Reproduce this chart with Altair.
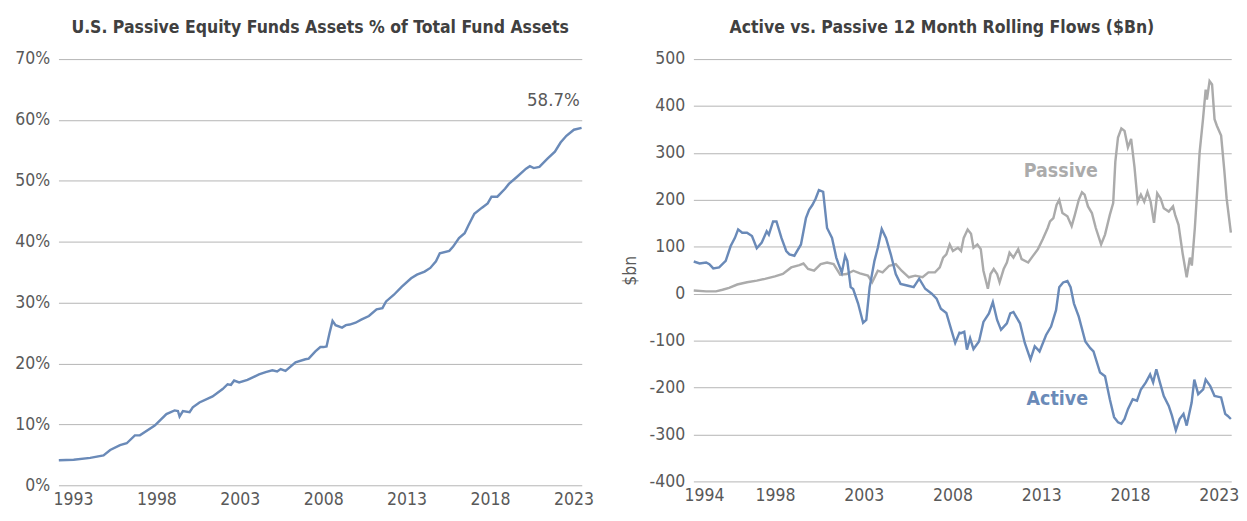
import altair as alt
import pandas as pd

# ---------------- data ----------------
# Left panel: passive equity fund assets as % of total fund assets
share_year = [1992.15, 1993.04, 1994.03, 1994.83, 1995.23, 1995.82, 1996.22, 1996.71, 1997.01, 1997.90,
              1998.60, 1999.09, 1999.29, 1999.39, 1999.59, 1999.99, 2000.18, 2000.58, 2001.37, 2001.97,
              2002.27, 2002.47, 2002.66, 2002.96, 2003.46, 2004.15, 2004.55, 2004.95, 2005.24, 2005.45,
              2005.74, 2006.34, 2006.93, 2007.13, 2007.53, 2007.83, 2008.02, 2008.20, 2008.38, 2008.56,
              2008.74, 2009.13, 2009.36, 2009.59, 2009.94, 2010.28, 2010.74, 2011.20, 2011.55, 2011.77,
              2012.24, 2012.70, 2013.27, 2013.62, 2014.08, 2014.42, 2014.76, 2014.99, 2015.56, 2015.79,
              2016.14, 2016.48, 2016.71, 2017.06, 2017.52, 2017.86, 2018.09, 2018.44, 2018.90, 2019.13,
              2019.59, 2020.16, 2020.39, 2020.62, 2020.96, 2021.43, 2021.89, 2022.23, 2022.58, 2023.03,
              2023.49]
share_pct = [4.1, 4.2, 4.5, 4.9, 5.8, 6.6, 6.9, 8.2, 8.2, 9.8,
             11.7, 12.3, 12.2, 11.3, 12.2, 12.0, 12.8, 13.6, 14.6, 15.8,
             16.6, 16.5, 17.2, 16.9, 17.3, 18.2, 18.6, 18.9, 18.7, 19.1,
             18.8, 20.2, 20.7, 20.8, 22.0, 22.7, 22.7, 22.8, 25.0, 27.0,
             26.3, 25.9, 26.3, 26.4, 26.7, 27.2, 27.8, 28.9, 29.1, 30.2,
             31.3, 32.6, 34.0, 34.6, 35.1, 35.7, 36.8, 38.1, 38.5, 39.2,
             40.6, 41.4, 42.7, 44.6, 45.6, 46.3, 47.4, 47.4, 48.7, 49.5,
             50.6, 52.0, 52.4, 52.1, 52.3, 53.6, 54.8, 56.3, 57.4, 58.4,
             58.7]
share_ticks = [1993, 1998, 2003, 2008, 2013, 2018, 2023]
share_pct_ticks = [0, 10, 20, 30, 40, 50, 60, 70]
share_note = "58.7%"

# Right panel: 12 month rolling flows, $bn
active_year = [1993.42, 1993.75, 1994.12, 1994.30, 1994.52, 1994.85, 1995.22, 1995.50, 1995.74, 1995.92,
               1996.15, 1996.42, 1996.70, 1996.97, 1997.25, 1997.53, 1997.65, 1997.89, 1998.08, 1998.36,
               1998.63, 1998.81, 1999.09, 1999.46, 1999.74, 1999.92, 2000.10, 2000.29, 2000.47, 2000.71,
               2000.93, 2001.21, 2001.45, 2001.58, 2001.76, 2001.95, 2002.07, 2002.26, 2002.40, 2002.68,
               2002.96, 2003.14, 2003.33, 2003.60, 2003.79, 2004.01, 2004.25, 2004.52, 2004.80, 2005.07,
               2005.44, 2005.81, 2006.12, 2006.46, 2006.83, 2007.10, 2007.34, 2007.65, 2007.93, 2008.15,
               2008.39, 2008.48, 2008.66, 2008.81, 2008.99, 2009.18, 2009.49, 2009.74, 2010.05, 2010.27,
               2010.51, 2010.73, 2011.06, 2011.25, 2011.43, 2011.58, 2011.80, 2012.07, 2012.39, 2012.63,
               2012.90, 2013.27, 2013.55, 2013.83, 2014.01, 2014.23, 2014.47, 2014.65, 2014.84, 2015.11,
               2015.48, 2015.76, 2015.94, 2016.31, 2016.59, 2016.86, 2017.10, 2017.32, 2017.51, 2017.69,
               2017.88, 2018.15, 2018.39, 2018.61, 2018.89, 2019.13, 2019.30, 2019.48, 2019.68, 2019.90,
               2020.18, 2020.36, 2020.58, 2020.79, 2021.01, 2021.19, 2021.47, 2021.62, 2021.84, 2022.12,
               2022.26, 2022.52, 2022.76, 2023.13, 2023.36, 2023.49, 2023.68]
active_bn = [68.6, 64.4, 66.5, 63, 54, 56, 70, 101.7, 119, 137,
             130, 130, 123, 97, 109, 133, 126, 154, 154, 119,
             91, 84, 81, 105, 161, 179, 189, 203, 221, 217,
             140, 119, 77, 63, 45, 81, 70, 14, 10, -21,
             -62, -56, 14, 70, 98, 138, 119, 84, 42, 21,
             17.5, 14, 32, 10.5, 0, -10.5, -32, -41, -77, -105,
             -83, -84, -81, -119, -95, -118, -102, -60, -42, -18,
             -56, -77, -63, -42, -39, -49, -63, -105, -140, -112,
             -123, -88, -70, -35, 14, 24, 27, 14, -21, -49,
             -102, -116, -123, -168, -176, -225, -263, -274, -277, -267,
             -246, -225, -228, -204, -189, -172, -189, -161, -189, -218,
             -239, -260, -291, -267, -256, -281, -232, -183, -214, -204,
             -183, -197, -218, -221, -256, -260, -267]
passive_year = [1993.42, 1994.12, 1994.67, 1995.04, 1995.41, 1995.87, 1996.42, 1996.97, 1997.43, 1997.99,
                1998.44, 1998.91, 1999.37, 1999.60, 1999.86, 2000.20, 2000.57, 2000.93, 2001.30, 2001.67,
                2002.04, 2002.41, 2002.78, 2003.23, 2003.47, 2003.79, 2004.06, 2004.43, 2004.80, 2005.13,
                2005.54, 2005.90, 2006.31, 2006.64, 2007.01, 2007.28, 2007.47, 2007.65, 2007.84, 2008.02,
                2008.30, 2008.48, 2008.63, 2008.85, 2009.04, 2009.18, 2009.40, 2009.59, 2009.74, 2009.99,
                2010.14, 2010.32, 2010.51, 2010.65, 2010.88, 2011.06, 2011.21, 2011.43, 2011.70, 2011.89,
                2012.26, 2012.53, 2012.81, 2013.08, 2013.36, 2013.49, 2013.68, 2013.86, 2014.01, 2014.19,
                2014.47, 2014.71, 2014.89, 2015.11, 2015.29, 2015.44, 2015.63, 2015.85, 2016.07, 2016.37,
                2016.59, 2016.86, 2017.05, 2017.17, 2017.32, 2017.51, 2017.69, 2017.88, 2018.06, 2018.25,
                2018.43, 2018.61, 2018.80, 2018.98, 2019.16, 2019.35, 2019.53, 2019.72, 2019.90, 2020.18,
                2020.42, 2020.54, 2020.73, 2020.97, 2021.19, 2021.37, 2021.48, 2021.65, 2021.92, 2022.11,
                2022.26, 2022.33, 2022.48, 2022.62, 2022.76, 2022.89, 2023.13, 2023.31, 2023.44, 2023.68]
passive_bn = [7, 5, 5, 8.4, 12.6, 19.6, 24.4, 28, 31.6, 37,
              42, 56, 61, 64.4, 52.6, 49, 63, 66.5, 63, 40.6,
              42, 49, 43.4, 38.5, 24.4, 49, 45.5, 59.6, 63, 49,
              35, 38.5, 35, 45.5, 45.5, 56, 77, 84, 105, 91,
              98, 91, 119, 137, 128, 98, 105, 95, 49, 10.5,
              42, 52.6, 42, 24.4, 52.6, 66.5, 87.6, 77, 95, 73.7,
              66.5, 80.6, 95, 116, 140, 154, 161, 189, 200, 172,
              165, 144, 168, 200, 216, 211, 186, 172, 140, 105,
              126, 168, 193, 281, 333, 352, 347, 312, 330, 270,
              196, 211, 196, 217, 196, 151, 214, 203, 182, 175,
              186, 168, 147, 84, 35, 77, 60, 140, 302, 372,
              435, 414, 453, 446, 372, 358, 337, 263, 203, 130]
flow_ticks = [1994, 1998, 2003, 2008, 2013, 2018, 2023]
flow_bn_ticks = [-400, -300, -200, -100, 0, 100, 200, 300, 400, 500]
series_names = ["Passive", "Active"]

# ---------------- styling ----------------
FONT = "Liberation Sans Narrow, DejaVu Sans Condensed, Roboto"
TXT = "#595959"
TITLE = "#404040"
GRID = "#B3B3B3"
BLUE = "#6A8AB8"
GRAY = "#ABABAB"

# ---------------- left panel ----------------
share_df = pd.DataFrame({"year": share_year, "pct": share_pct})
note_df = pd.DataFrame({"year": [2021.8], "pct": [63.2], "label": [share_note]})

lx = alt.X("year:Q",
           scale=alt.Scale(domain=[1992.13, 2023.5], nice=False, zero=False),
           axis=alt.Axis(values=share_ticks, format="d", title=None, grid=False, ticks=False,
                         domain=False, labelPadding=6, labelOverlap=False, labelFlush=False))
ly = alt.Y("pct:Q",
           scale=alt.Scale(domain=[0, 70], nice=False),
           axis=alt.Axis(values=share_pct_ticks, labelExpr="datum.value + '%'", title=None,
                         grid=True, ticks=False, domain=False, labelPadding=9))

left_line = alt.Chart(share_df).mark_line(color=BLUE, strokeWidth=2.5).encode(x=lx, y=ly)
left_note = alt.Chart(note_df).mark_text(font=FONT, fontSize=19, color=TXT, align="center",
                                         baseline="middle").encode(x="year:Q", y="pct:Q", text="label:N")
left = alt.layer(left_line, left_note).properties(
    width=539, height=439,
    title=alt.TitleParams("U.S. Passive Equity Funds Assets % of Total Fund Assets",
                          anchor="middle", frame="group", font=FONT, fontSize=18,
                          fontWeight="bold", color=TITLE, offset=14))

# ---------------- right panel ----------------
active_df = pd.DataFrame({"year": active_year, "bn": active_bn})
passive_df = pd.DataFrame({"year": passive_year, "bn": passive_bn})
label_df = pd.DataFrame({"year": [2014.1, 2013.9], "bn": [262, -225], "label": series_names})

rx = alt.X("year:Q",
           scale=alt.Scale(domain=[1993.4, 2023.7], nice=False, zero=False),
           axis=alt.Axis(values=flow_ticks, format="d", title=None, grid=False, ticks=False,
                         domain=False, labelPadding=6, labelOverlap=False, labelFlush=False))
ry = alt.Y("bn:Q",
           scale=alt.Scale(domain=[-400, 500], nice=False),
           axis=alt.Axis(values=flow_bn_ticks, labelExpr="datum.value + ''", title="$bn",
                         titleFont=FONT, titleFontWeight="normal", titleFontSize=18,
                         titleColor=TXT, titlePadding=10,
                         grid=True, ticks=False, domain=False, labelPadding=9))

passive_line = alt.Chart(passive_df).mark_line(color=GRAY, strokeWidth=2.5).encode(x=rx, y=ry)
active_line = alt.Chart(active_df).mark_line(color=BLUE, strokeWidth=2.5).encode(x="year:Q", y="bn:Q")
series_labels = alt.Chart(label_df).mark_text(font=FONT, fontSize=20, fontWeight="bold",
                                              align="center", baseline="middle").encode(
    x="year:Q", y="bn:Q", text="label:N",
    color=alt.Color("label:N", scale=alt.Scale(domain=series_names, range=[GRAY, BLUE]), legend=None))

right = alt.layer(passive_line, active_line, series_labels).properties(
    width=554, height=435,
    title=alt.TitleParams("Active vs. Passive 12 Month Rolling Flows ($Bn)",
                          anchor="middle", frame="group", font=FONT, fontSize=18,
                          fontWeight="bold", color=TITLE, offset=14, dx=-21))

chart = alt.hconcat(left, right, spacing=28).properties(
    padding={"left": 7, "top": 4, "right": 0, "bottom": 0}
).configure_view(stroke=None).configure_axis(
    labelFont=FONT, labelFontSize=18, labelColor=TXT, gridColor=GRID, gridWidth=1
)

chart.save("out.html", embed_options={"renderer": "svg", "actions": False})
